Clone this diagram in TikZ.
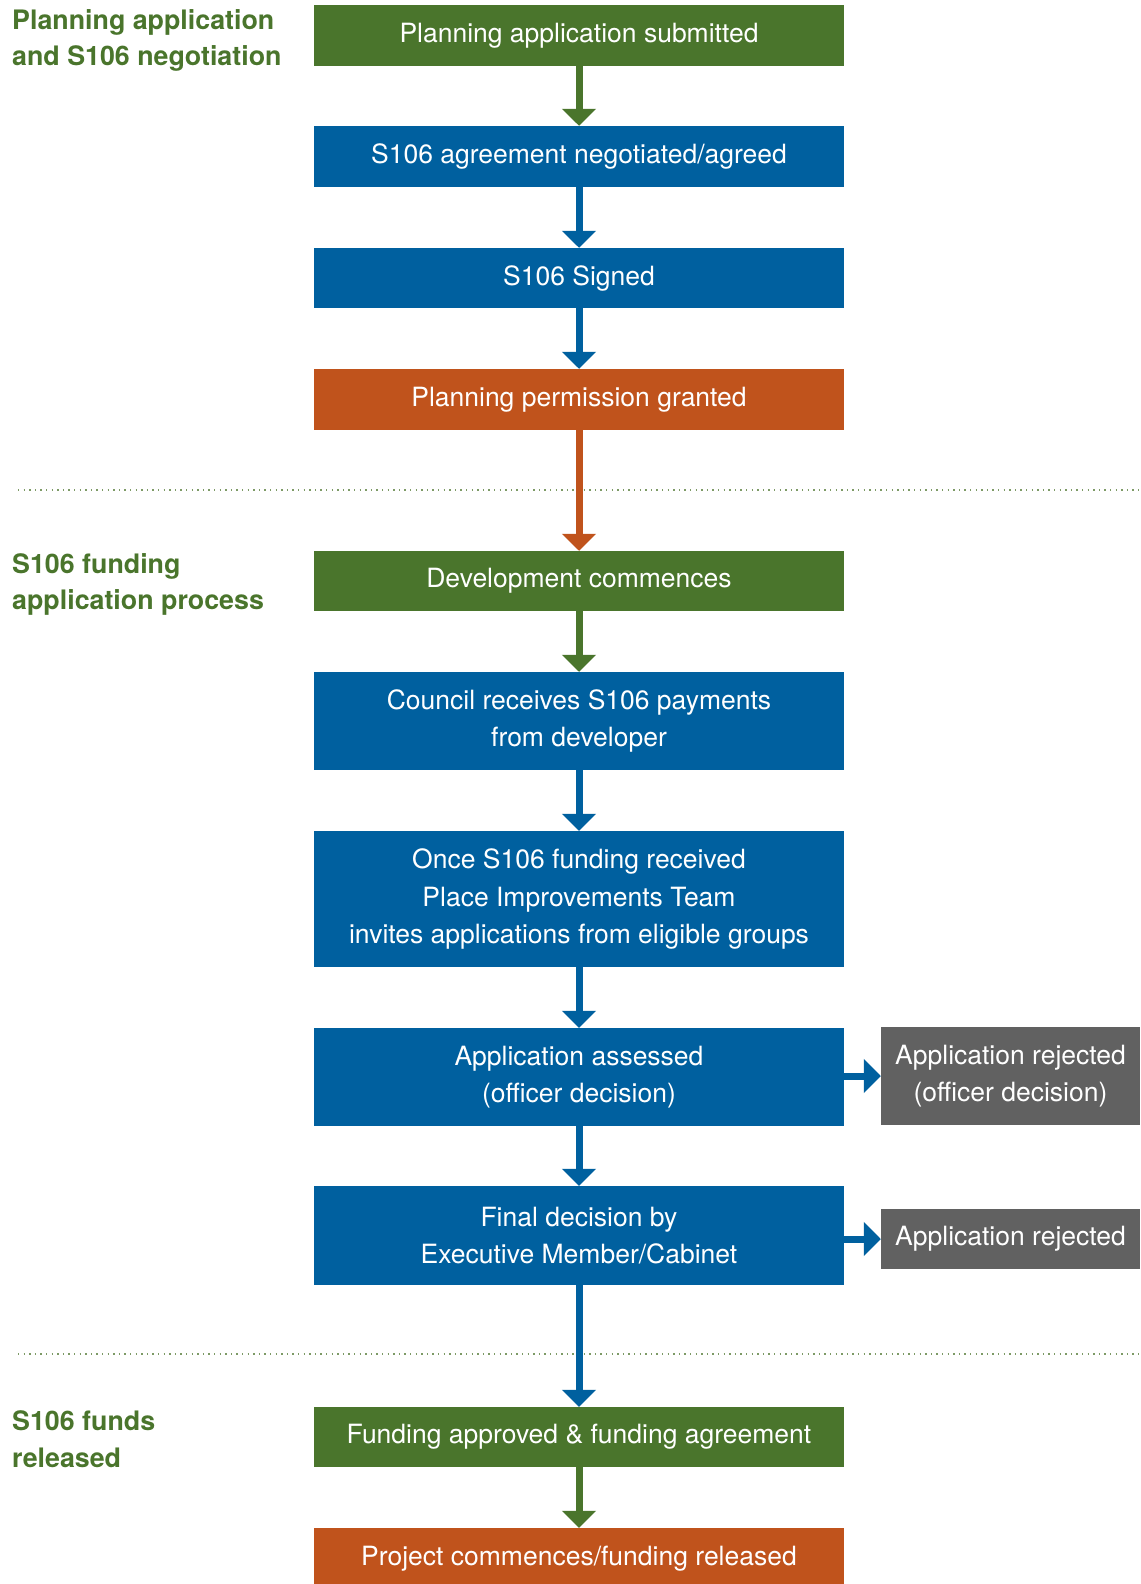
\documentclass[tikz,border=0pt]{standalone}
\usepackage{fontspec}
\setmainfont{TeX Gyre Heros}
\usetikzlibrary{arrows.meta}
\definecolor{cgreen}{HTML}{4A752C}
\definecolor{cblue}{HTML}{00609F}
\definecolor{corange}{HTML}{C0531C}
\definecolor{cgray}{HTML}{616161}
\definecolor{cdot}{HTML}{7D9A66}
\begin{document}
\begin{tikzpicture}[x=1pt,y=-1pt,
  box/.style={draw=none,minimum width=530pt,inner sep=0pt,align=center,text=white,
    font=\fontsize{26.5}{37.4}\selectfont},
  gbox/.style={box,fill=cgray,minimum width=259pt},
  lbl/.style={anchor=west,align=left,inner sep=0pt,text=cgreen,
    font=\bfseries\fontsize{26.8}{36.8}\selectfont},
  flow/.style={line width=7pt,-{Triangle[width=33pt,length=17pt]}},
  sep/.style={cdot,line width=1.4pt,dash pattern=on 1.4pt off 4.2pt}]
\useasboundingbox (0,0) rectangle (1140,1584);
\fill[white] (0,0) rectangle (1140,1584);
% separators
\coordinate (s1a) at (18,490); \coordinate (s1b) at (1140,490);
\coordinate (s2a) at (18,1354); \coordinate (s2b) at (1140,1354);
\draw[sep] (s1a) -- (s1b);
\draw[sep] (s2a) -- (s2b);
% left labels
\node[lbl] (l1) at (12,40.5) {Planning application\\and S106 negotiation};
\node[lbl] (l2) at (12,584.5) {S106 funding\\application process};
\node[lbl] (l3) at (12,1439) {S106 funds\\released};
% boxes
\node[box,fill=cgreen,minimum height=61pt] (b1) at (579,35.5) {Planning application submitted};
\node[box,fill=cblue,minimum height=61pt] (b2) at (579,156.5) {S106 agreement negotiated/agreed};
\node[box,fill=cblue,minimum height=60pt] (b3) at (579,278) {S106 Signed};
\node[box,fill=corange,minimum height=61pt] (b4) at (579,399.5) {Planning permission granted};
\node[box,fill=cgreen,minimum height=60pt] (b5) at (579,581) {Development commences};
\node[box,fill=cblue,minimum height=98pt] (b6) at (579,721) {Council receives S106 payments\\from developer};
\node[box,fill=cblue,minimum height=136pt] (b7) at (579,899) {Once S106 funding received\\Place Improvements Team\\invites applications from eligible groups};
\node[box,fill=cblue,minimum height=98pt] (b8) at (579,1077) {Application assessed\\(officer decision)};
\node[box,fill=cblue,minimum height=99pt] (b9) at (579,1235.5) {Final decision by\\Executive Member/Cabinet};
\node[box,fill=cgreen,minimum height=60pt] (b10) at (579,1437) {Funding approved \& funding agreement};
\node[box,fill=corange,minimum height=61pt] (b11) at (579,1558.5) {Project commences/funding released};
\node[gbox,minimum height=98pt] (r1) at (1010.5,1076) {Application rejected\\(officer decision)};
\node[gbox,minimum height=60pt] (r2) at (1010.5,1239) {Application rejected};
% connectors
\draw[flow,cgreen] (b1) -- (b2);
\draw[flow,cblue] (b2) -- (b3);
\draw[flow,cblue] (b3) -- (b4);
\draw[flow,corange] (b4) -- (b5);
\draw[flow,cgreen] (b5) -- (b6);
\draw[flow,cblue] (b6) -- (b7);
\draw[flow,cblue] (b7) -- (b8);
\draw[flow,cblue] (b8) -- (b9);
\draw[flow,cblue] (b9) -- (b10);
\draw[flow,cgreen] (b10) -- (b11);
\draw[flow,cblue] (b8.east |- r1.west) -- (r1.west);
\draw[flow,cblue] (b9.east |- r2.west) -- (r2.west);
\end{tikzpicture}
\end{document}
